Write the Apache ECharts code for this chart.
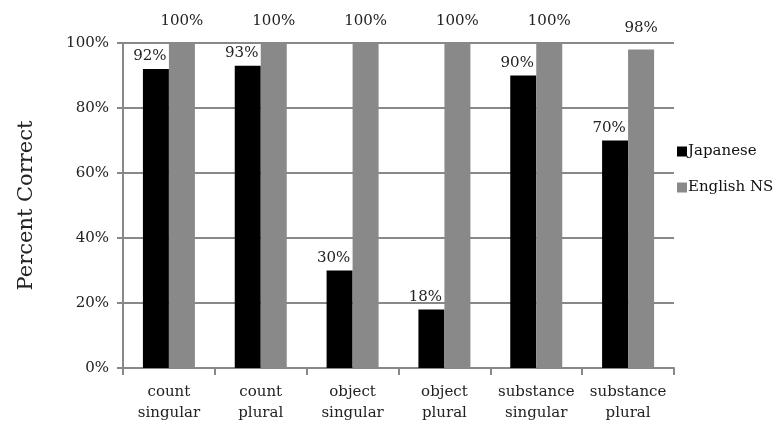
<!DOCTYPE html>
<html><head><meta charset="utf-8">
<script src="https://cdn.jsdelivr.net/npm/echarts@6/dist/echarts.min.js"></script>
<style>html,body{margin:0;padding:0;background:#fff}#c{width:778px;height:427px}</style>
</head><body><div id="c"></div>
<script>
var categories = ['count\nsingular','count\nplural','object\nsingular','object\nplural','substance\nsingular','substance\nplural'];
var japanese = [92, 93, 30, 18, 90, 70];
var englishNS = [100, 100, 100, 100, 100, 98];
var yTicks = [0, 20, 40, 60, 80, 100];
var F = '"DejaVu Serif", "Liberation Serif", serif';
var chart = echarts.init(document.getElementById('c'));
chart.setOption({
  animation: false,
  textStyle: {fontFamily: F},
  grid: {left: 123, right: 104, top: 43, bottom: 59, containLabel: false},
  legend: {
    orient: 'vertical', left: 672, top: 139, itemGap: 21, itemWidth: 10, itemHeight: 10,
    icon: 'rect',
    textStyle: {fontFamily: F, fontSize: 15, color: '#111', padding: [0,0,0,-4]},
    data: ['Japanese', 'English NS']
  },
  xAxis: {
    type: 'category', data: categories,
    axisLine: {lineStyle: {color: '#888', width: 2}},
    axisTick: {show: true, length: 7, lineStyle: {color: '#888', width: 2}},
    axisLabel: {interval: 0, fontFamily: F, fontSize: 15, color: '#222', lineHeight: 21, margin: 14}
  },
  yAxis: {
    type: 'value', min: 0, max: 100, interval: 20,
    name: 'Percent Correct', nameLocation: 'middle', nameGap: 86, nameRotate: 90,
    nameTextStyle: {fontFamily: F, fontSize: 21, color: '#222'},
    axisLine: {show: true, lineStyle: {color: '#888', width: 2}},
    axisTick: {show: true, length: 6, inside: false, lineStyle: {color: '#888', width: 2}},
    splitLine: {lineStyle: {color: '#888', width: 2}},
    axisLabel: {fontFamily: F, fontSize: 15, color: '#222', margin: 14,
      formatter: function(v){ return yTicks.indexOf(v) >= 0 ? v + '%' : ''; }}
  },
  series: [
    {name: 'Japanese', type: 'bar', data: japanese, barWidth: 26, barGap: '0%',
     itemStyle: {color: '#000'},
     label: {show: true, position: 'top', distance: 5, offset: [-6, 0], formatter: '{c}%', fontFamily: F, fontSize: 15, color: '#222'}},
    {name: 'English NS', type: 'bar', data: englishNS, barWidth: 26, barGap: '0%',
     itemStyle: {color: '#898989'},
     label: {show: true, position: 'top', distance: 14, formatter: '{c}%', fontFamily: F, fontSize: 15, color: '#222'}}
  ]
});
</script></body></html>
